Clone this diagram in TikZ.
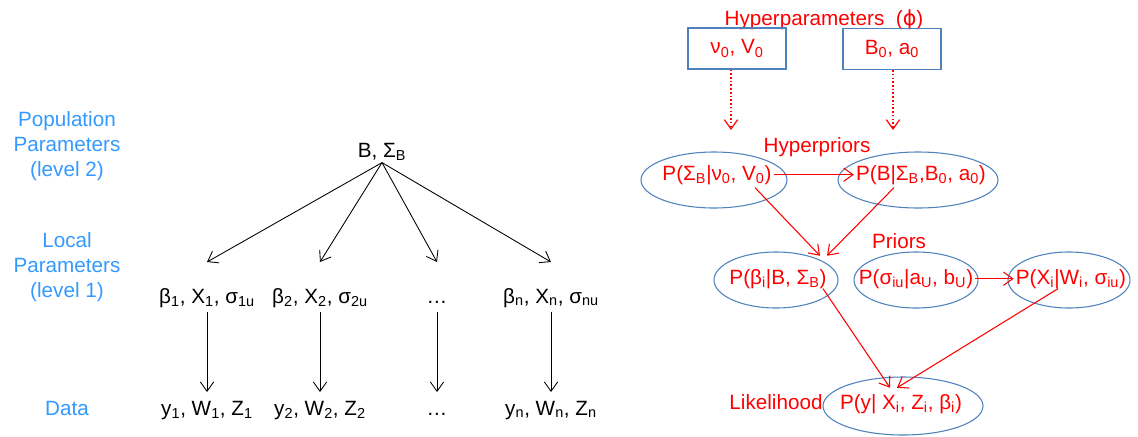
\documentclass[tikz,border=0pt]{standalone}
\usepackage{fontspec}
\setmainfont{Liberation Sans}
\newfontfamily\dv{DejaVu Sans}
\usetikzlibrary{arrows.meta,shapes.geometric,calc}
\definecolor{lblue}{RGB}{51,153,255}
\definecolor{eblue}{RGB}{79,129,189}
\definecolor{rred}{RGB}{255,0,0}
\newcommand\sbs[1]{\textsubscript{#1}}
\begin{document}
\begin{tikzpicture}[x=0.75pt,y=-0.75pt,
  every node/.style={font=\fontsize{15.5}{19}\selectfont, inner sep=1.5pt},
  lvl/.style={text=lblue, align=center},
  blk/.style={text=black, anchor=base},
  rtxt/.style={text=rred, anchor=base},
  ell/.style={draw=eblue, ellipse, line width=0.8pt, inner sep=0pt},
  bx/.style={draw=eblue, line width=0.8pt, text=rred, inner sep=0pt},
  karr/.style={-{Straight Barb[length=7pt,width=10pt]}, line width=0.65pt, black},
  rarr/.style={-{Straight Barb[length=7pt,width=10pt]}, line width=0.8pt, rred},
  darr/.style={rarr, dash pattern=on 1.2pt off 1.6pt, line width=0.9pt}]
\useasboundingbox (0,0) rectangle (1138,436);

% ---------- left: tree ----------
\node[lvl] (L2) at (67,146) {Population\\Parameters\\(level 2)};
\node[lvl] (L1) at (67,267) {Local\\Parameters\\(level 1)};
\node[lvl] (L0) at (67,408) {Data};

\node[blk] (B) at (382,157) {B, Σ\sbs{B}};

\node[blk] (l1) at (207,303) {β\sbs{1}, X\sbs{1}, σ\sbs{1u}};
\node[blk] (l2) at (320,303) {β\sbs{2}, X\sbs{2}, σ\sbs{2u}};
\node[blk] (l3) at (437,303) {…};
\node[blk] (l4) at (551,303) {β\sbs{n}, X\sbs{n}, σ\sbs{nu}};

\node[blk] (d1) at (207,415) {y\sbs{1}, W\sbs{1}, Z\sbs{1}};
\node[blk] (d2) at (320,415) {y\sbs{2}, W\sbs{2}, Z\sbs{2}};
\node[blk] (d3) at (437,415) {…};
\node[blk] (d4) at (551,415) {y\sbs{n}, W\sbs{n}, Z\sbs{n}};

\coordinate (ltop) at (0,262);
\coordinate (lbot) at (0,312);
\coordinate (dtop) at (0,392);
\foreach \i in {1,2,3,4}{
  \draw[karr] (B.south) -- (l\i.north |- ltop);
  \draw[karr] (l\i.south |- lbot) -- (d\i.north |- dtop);
}

% ---------- right: model ----------
\node[rtxt] (hp) at (824,25) {Hyperparameters~~({\dv ϕ})};
\node[bx, minimum width=73.5pt, minimum height=30.75pt] (b1) at (737,48.5) {ν\sbs{0}, V\sbs{0}};
\node[bx, minimum width=73.5pt, minimum height=30.75pt] (b2) at (892,49) {B\sbs{0}, a\sbs{0}};
\coordinate (h1) at (731,130);
\coordinate (h2) at (893,130);
\draw[darr] (b1.south -| h1) -- (h1);
\draw[darr] (b2.south -| h2) -- (h2);

\node[rtxt] (hpr) at (817,152) {Hyperpriors};
\node[ell, minimum width=109.5pt, minimum height=42pt] (e1) at (714,180) {};
\node[ell, minimum width=120pt, minimum height=42pt] (e2) at (918,180) {};
\node[rtxt] (p1) at (717,180) {P(Σ\sbs{B}|ν\sbs{0}, V\sbs{0})};
\node[rtxt] (p2) at (921,180) {P(B|Σ\sbs{B},B\sbs{0}, a\sbs{0})};

\node[rtxt] (pri) at (899,248) {Priors};
\node[ell, minimum width=93pt, minimum height=42pt] (e3) at (776,280) {};
\node[ell, minimum width=93pt, minimum height=42pt] (e4) at (916,280) {};
\node[ell, minimum width=91.5pt, minimum height=42pt] (e5) at (1069,280) {};
\node[rtxt] (p3) at (778,284) {P(β\sbs{i}|B, Σ\sbs{B})};
\node[rtxt] (p4) at (916,284) {P(σ\sbs{iu}|a\sbs{U}, b\sbs{U})};
\node[rtxt] (p5) at (1071,284) {P(X\sbs{i}|W\sbs{i}, σ\sbs{iu})};

\node[ell, minimum width=120pt, minimum height=43.5pt] (e6) at (903,406) {};
\node[rtxt] (lk) at (776,409) {Likelihood};
\node[rtxt] (p6) at (901,409) {P(y| X\sbs{i}, Z\sbs{i}, β\sbs{i})};

\draw[rarr] (p1.east) -- (p2.west);
\draw[rarr] ($(p1.south)+(38,1)$) -- ($(p3.north)+(42,-11)$);
\draw[rarr] ($(p2.south)+(-27,1)$) -- ($(p3.north)+(49,-11)$);
\draw[rarr] (p4.east) -- (p5.west);
\draw[rarr] ($(p3.south)+(45,-2)$) -- ($(p6.north)+(-11,-4)$);
\draw[rarr] ($(p5.south)+(-13,-2)$) -- ($(p6.north)+(-4,-4)$);
\end{tikzpicture}
\end{document}
